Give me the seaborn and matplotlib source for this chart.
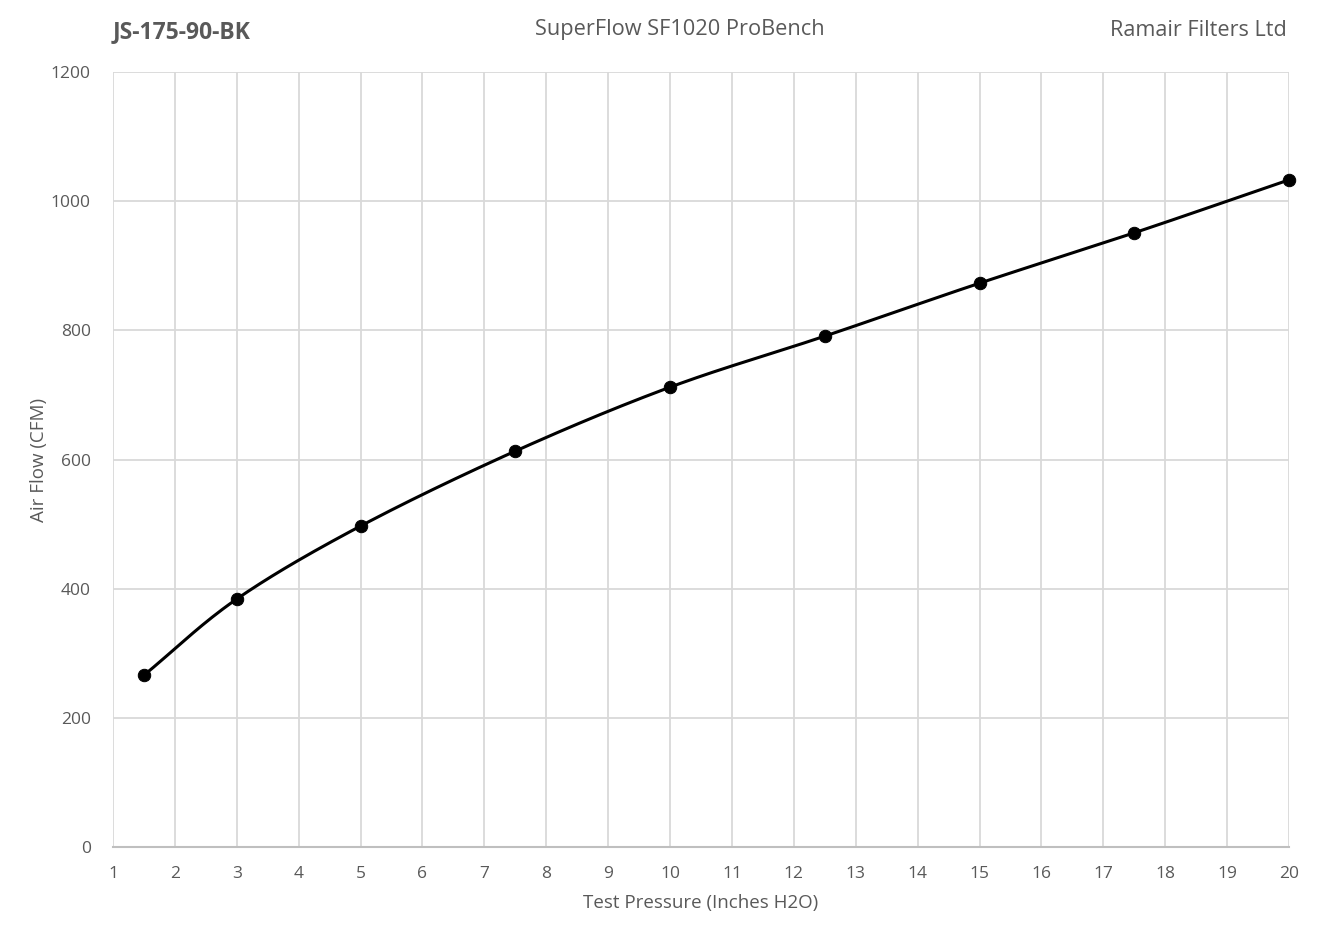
import numpy as np
import pandas as pd
import seaborn as sns
import matplotlib.pyplot as plt

# --- data ---
pressure = [1.5, 3, 5, 7.5, 10, 12.5, 15, 17.5, 20]
airflow = [266, 384, 497, 613, 712, 791, 873, 951, 1033]
x_ticks = list(range(1, 21))
y_ticks = [0, 200, 400, 600, 800, 1000, 1200]

df = pd.DataFrame({"pressure": pressure, "airflow": airflow})


def smooth_curve(x, y, n=30):
    # Excel style smoothed line: Catmull-Rom through the measured points
    x = np.asarray(x, float)
    y = np.asarray(y, float)
    px = np.concatenate([[2 * x[0] - x[1]], x, [2 * x[-1] - x[-2]]])
    py = np.concatenate([[2 * y[0] - y[1]], y, [2 * y[-1] - y[-2]]])
    xs, ys = [], []
    t = np.linspace(0, 1, n)
    for i in range(1, len(px) - 2):
        for p, out in ((px, xs), (py, ys)):
            p0, p1, p2, p3 = p[i - 1], p[i], p[i + 1], p[i + 2]
            seg = 0.5 * ((2 * p1) + (-p0 + p2) * t
                         + (2 * p0 - 5 * p1 + 4 * p2 - p3) * t ** 2
                         + (-p0 + 3 * p1 - 3 * p2 + p3) * t ** 3)
            out.extend(seg)
    return np.array(xs), np.array(ys)


sns.set_theme(style="white")
plt.rcParams['font.family'] = ['Open Sans', 'DejaVu Sans']

grey_text = "#595959"
grid_col = "#d9d9d9"

fig = plt.figure(figsize=(13.21, 9.4), dpi=100)
ax = fig.add_axes([113 / 1321, 1 - 847 / 940, (1289 - 113) / 1321, (847 - 72) / 940])

sx, sy = smooth_curve(pressure, airflow)
ax.plot(sx, sy, color="black", lw=2.2, zorder=3, clip_on=False)
sns.scatterplot(data=df, x="pressure", y="airflow", ax=ax, color="black",
                s=80, edgecolor="black", zorder=4, legend=False, clip_on=False)

ax.set_xlim(1, 20)
ax.set_ylim(0, 1200)
ax.set_xticks(x_ticks)
ax.set_yticks(y_ticks)
ax.grid(True, color=grid_col, lw=1.3)
ax.set_axisbelow(True)
for side in ["top", "right", "left"]:
    ax.spines[side].set_visible(False)
ax.spines["bottom"].set_color("#bfbfbf")
ax.spines["bottom"].set_linewidth(1.5)
ax.tick_params(axis="both", length=0, labelsize=12.5, colors=grey_text, pad=14)
ax.tick_params(axis="y", pad=16)

ax.set_xlabel("Test Pressure (Inches H2O)", fontsize=13.5, color=grey_text, labelpad=8)
ax.set_ylabel("Air Flow (CFM)", fontsize=13.5, color=grey_text, labelpad=2)

fig.text(113 / 1321, 1 - 32 / 940, "JS-175-90-BK", fontsize=16.5, fontweight="bold",
         color=grey_text, va="center", ha="left")
fig.text(680 / 1321, 1 - 30 / 940, "SuperFlow SF1020 ProBench", fontsize=15.7,
         color=grey_text, va="center", ha="center")
fig.text(1287 / 1321, 1 - 30 / 940, "Ramair Filters Ltd", fontsize=15.6,
         color=grey_text, va="center", ha="right")

fig.savefig("out.png", dpi=100, facecolor="white")
